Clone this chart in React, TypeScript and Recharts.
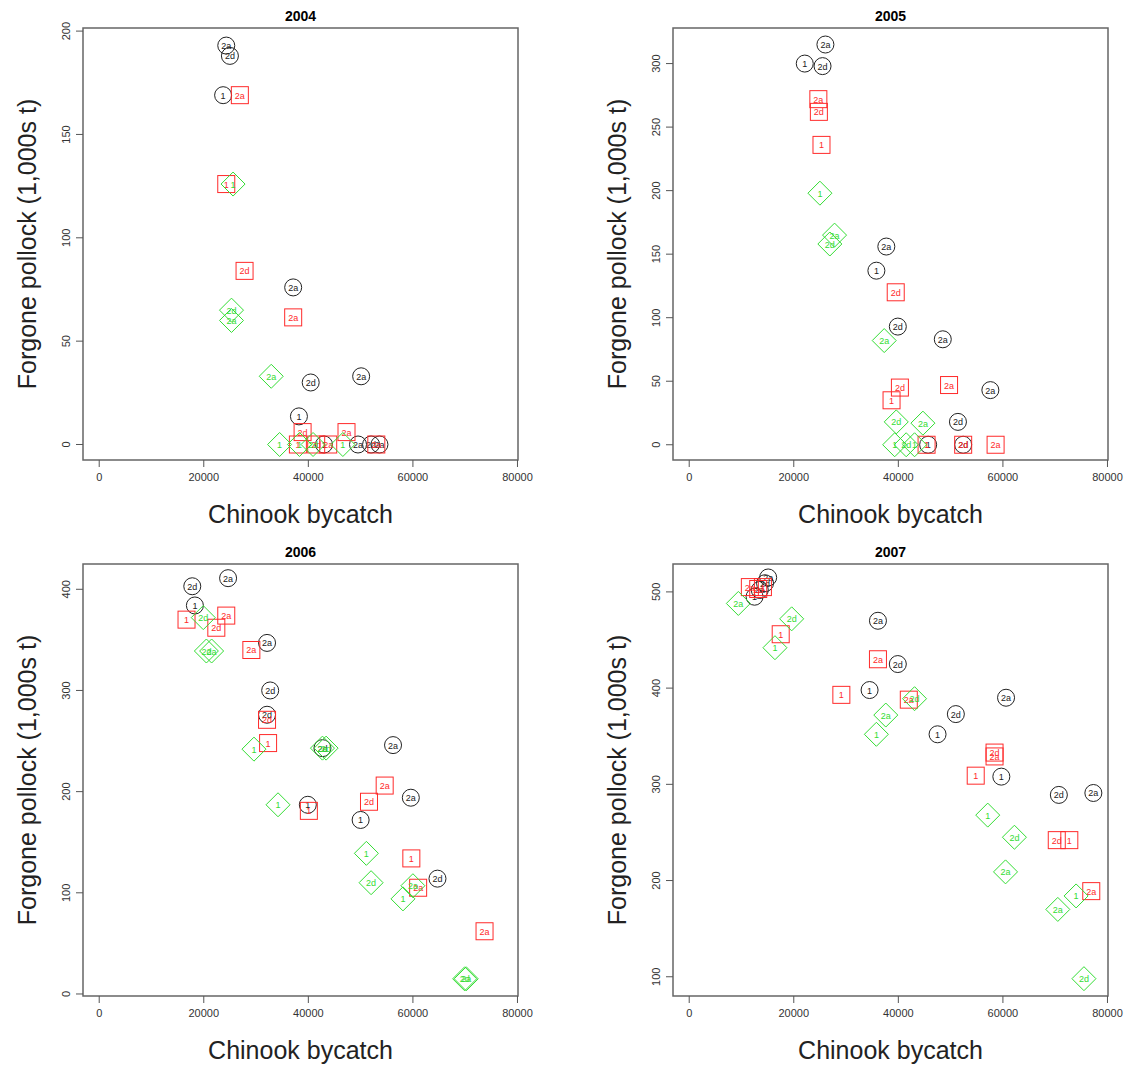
import React from "react";
import { ScatterChart, Scatter, XAxis, YAxis, ReferenceArea } from "recharts";

type P = { x: number; y: number; l: string };

const xTicks = [0, 20000, 40000, 60000, 80000];

const b2004: P[] = [
  { x: 24300, y: 193, l: "2a" }, { x: 25000, y: 188, l: "2d" }, { x: 23700, y: 169, l: "1" },
  { x: 37100, y: 76, l: "2a" }, { x: 40450, y: 30, l: "2d" }, { x: 50100, y: 33, l: "2a" },
  { x: 38200, y: 13.6, l: "1" }, { x: 43000, y: 0, l: "1" }, { x: 49500, y: 0, l: "2a" },
  { x: 52000, y: 0, l: "2d" }, { x: 53600, y: 0, l: "2a" },
];
const r2004: P[] = [
  { x: 26900, y: 169, l: "2a" }, { x: 24300, y: 126, l: "1" }, { x: 27800, y: 84, l: "2d" },
  { x: 37100, y: 61.5, l: "2a" }, { x: 38900, y: 6, l: "2d" }, { x: 47300, y: 6, l: "2a" },
  { x: 38000, y: 0, l: "1" }, { x: 41500, y: 0, l: "2d" }, { x: 43800, y: 0, l: "2a" },
  { x: 53000, y: 0, l: "2a" },
];
const g2004: P[] = [
  { x: 25600, y: 126, l: "1" }, { x: 25300, y: 65, l: "2d" }, { x: 25300, y: 60, l: "2a" },
  { x: 32900, y: 33, l: "2a" }, { x: 34500, y: 0, l: "1" }, { x: 38300, y: 0, l: "1" },
  { x: 40900, y: 0, l: "2d" }, { x: 46600, y: 0, l: "1" },
];

const b2005: P[] = [
  { x: 26050, y: 315, l: "2a" }, { x: 22100, y: 300, l: "1" }, { x: 25500, y: 298, l: "2d" },
  { x: 37700, y: 156, l: "2a" }, { x: 35800, y: 137, l: "1" }, { x: 39900, y: 93, l: "2d" },
  { x: 48500, y: 83, l: "2a" }, { x: 57600, y: 43, l: "2a" }, { x: 51400, y: 18, l: "2d" },
  { x: 45700, y: 0, l: "1" }, { x: 52400, y: 0, l: "2d" },
];
const r2005: P[] = [
  { x: 24700, y: 272, l: "2a" }, { x: 24800, y: 262, l: "2d" }, { x: 25300, y: 236, l: "1" },
  { x: 39500, y: 120, l: "2d" }, { x: 40300, y: 45, l: "2d" }, { x: 38700, y: 35, l: "1" },
  { x: 49700, y: 47, l: "2a" }, { x: 58600, y: 0, l: "2a" }, { x: 45400, y: 0, l: "1" },
  { x: 52400, y: 0, l: "2d" },
];
const g2005: P[] = [
  { x: 25000, y: 198, l: "1" }, { x: 27800, y: 165, l: "2a" }, { x: 26900, y: 158, l: "2d" },
  { x: 37300, y: 82, l: "2a" }, { x: 39600, y: 18, l: "2d" }, { x: 44700, y: 17, l: "2a" },
  { x: 39300, y: 0, l: "1" }, { x: 41500, y: 0, l: "2d" }, { x: 43100, y: 0, l: "1" },
];

const b2006: P[] = [
  { x: 24650, y: 411, l: "2a" }, { x: 17800, y: 403, l: "2d" }, { x: 18300, y: 384, l: "1" },
  { x: 32100, y: 347, l: "2a" }, { x: 32700, y: 300, l: "2d" }, { x: 32100, y: 276, l: "2d" },
  { x: 56200, y: 246, l: "2a" }, { x: 39900, y: 187, l: "1" }, { x: 59600, y: 194, l: "2a" },
  { x: 50000, y: 172, l: "1" }, { x: 64700, y: 114, l: "2d" }, { x: 42700, y: 243, l: "2d" },
];
const r2006: P[] = [
  { x: 16700, y: 370, l: "1" }, { x: 24300, y: 374, l: "2a" }, { x: 22400, y: 362, l: "2d" },
  { x: 29100, y: 340, l: "2a" }, { x: 32100, y: 271, l: "2d" }, { x: 32300, y: 248, l: "1" },
  { x: 40100, y: 181, l: "1" }, { x: 54600, y: 206, l: "2a" }, { x: 51600, y: 190, l: "2d" },
  { x: 59700, y: 134, l: "1" }, { x: 61000, y: 105, l: "2a" }, { x: 73700, y: 62, l: "2a" },
];
const g2006: P[] = [
  { x: 19900, y: 372, l: "2d" }, { x: 20500, y: 339, l: "2d" }, { x: 21500, y: 339, l: "2a" },
  { x: 29600, y: 242, l: "1" }, { x: 43400, y: 243, l: "2d" }, { x: 42700, y: 243, l: "2a" },
  { x: 34200, y: 187, l: "1" }, { x: 51100, y: 139, l: "1" }, { x: 52000, y: 110, l: "2d" },
  { x: 58100, y: 94, l: "1" }, { x: 60000, y: 107, l: "2a" }, { x: 69900, y: 15, l: "2d" },
  { x: 70200, y: 15, l: "2a" },
];

const b2007: P[] = [
  { x: 15100, y: 515, l: "2a" }, { x: 14500, y: 509, l: "2d" }, { x: 13500, y: 502, l: "2a" },
  { x: 12500, y: 495, l: "1" }, { x: 36100, y: 470, l: "2a" }, { x: 39900, y: 425, l: "2d" },
  { x: 34500, y: 398, l: "1" }, { x: 51000, y: 373, l: "2d" }, { x: 47500, y: 352, l: "1" },
  { x: 60600, y: 390, l: "2a" }, { x: 59700, y: 308, l: "1" }, { x: 70700, y: 289, l: "2d" },
  { x: 77300, y: 291, l: "2a" },
];
const r2007: P[] = [
  { x: 11600, y: 505, l: "2a" }, { x: 13200, y: 503, l: "2d" }, { x: 14100, y: 505, l: "1" },
  { x: 17500, y: 456, l: "1" }, { x: 36100, y: 430, l: "2a" }, { x: 29100, y: 393, l: "1" },
  { x: 42000, y: 388, l: "2a" }, { x: 58400, y: 329, l: "2a" }, { x: 58400, y: 333, l: "2d" },
  { x: 54800, y: 309, l: "1" }, { x: 70300, y: 242, l: "2d" }, { x: 72700, y: 242, l: "1" },
  { x: 76900, y: 189, l: "2a" },
];
const g2007: P[] = [
  { x: 9400, y: 488, l: "2a" }, { x: 19600, y: 472, l: "2d" }, { x: 16400, y: 442, l: "1" },
  { x: 37600, y: 372, l: "2a" }, { x: 35800, y: 352, l: "1" }, { x: 43100, y: 389, l: "2d" },
  { x: 57100, y: 268, l: "1" }, { x: 62200, y: 245, l: "2d" }, { x: 60500, y: 209, l: "2a" },
  { x: 74000, y: 184, l: "1" }, { x: 70500, y: 170, l: "2a" }, { x: 75500, y: 98, l: "2d" },
];

const panels = [
  { title: "2004", b: b2004, r: r2004, g: g2004, yd: [-7.5, 201.5], yt: [0, 50, 100, 150, 200], left: 0, top: 0 },
  { title: "2005", b: b2005, r: r2005, g: g2005, yd: [-12, 328], yt: [0, 50, 100, 150, 200, 250, 300], left: 590, top: 0 },
  { title: "2006", b: b2006, r: r2006, g: g2006, yd: [-2, 425], yt: [0, 100, 200, 300, 400], left: 0, top: 536 },
  { title: "2007", b: b2007, r: r2007, g: g2007, yd: [80, 529], yt: [100, 200, 300, 400, 500], left: 590, top: 536 },
];

const XD: [number, number] = [-3100, 80100];
const FONT = "Liberation Sans, Arial, sans-serif";

const mk = (kind: "c" | "s" | "d", color: string) => (props: any) => {
  const { cx, cy, payload } = props;
  if (cx == null || cy == null) return <g />;
  let sh;
  if (kind === "c") sh = <circle cx={cx} cy={cy} r={8.5} fill="none" stroke={color} strokeWidth={1} />;
  else if (kind === "s") sh = <rect x={cx - 8.5} y={cy - 8.5} width={17} height={17} fill="none" stroke={color} strokeWidth={1} />;
  else sh = <polygon points={`${cx},${cy - 12} ${cx + 12},${cy} ${cx},${cy + 12} ${cx - 12},${cy}`} fill="none" stroke={color} strokeWidth={1} />;
  return (
    <g>
      {sh}
      <text x={cx} y={cy + 3.5} textAnchor="middle" fontSize={9} fill={color} fontFamily={FONT}>{payload.l}</text>
    </g>
  );
};

const YTick = (props: any) => {
  const { x, y, payload } = props;
  return (
    <text x={x - 4} y={y} transform={`rotate(-90 ${x - 4} ${y})`} textAnchor="middle" fontSize={11} fill="#333" fontFamily={FONT}>
      {payload.value}
    </text>
  );
};
const XTick = (props: any) => {
  const { x, y, payload } = props;
  return (
    <text x={x} y={y + 12} textAnchor="middle" fontSize={11} fill="#333" fontFamily={FONT}>{payload.value}</text>
  );
};

const Panel = ({ p }: { p: any }) => (
  <div style={{ position: "absolute", left: p.left, top: p.top, width: 568, height: 534 }}>
    <ScatterChart width={568} height={534} margin={{ left: 43, top: 28, right: 50, bottom: 44 }}>
      <XAxis type="number" dataKey="x" domain={XD} ticks={xTicks} allowDataOverflow axisLine={false}
        tickLine={{ stroke: "#555" }} tickSize={7} tick={<XTick />} height={30} />
      <YAxis type="number" dataKey="y" domain={p.yd} ticks={p.yt} allowDataOverflow axisLine={false}
        tickLine={{ stroke: "#555" }} tickSize={7} tick={<YTick />} width={40} />
      <ReferenceArea x1={XD[0]} x2={XD[1]} y1={p.yd[0]} y2={p.yd[1]} fill="none" stroke="#666" strokeWidth={1.5} />
      <Scatter data={p.b} shape={mk("c", "#222")} isAnimationActive={false} />
      <Scatter data={p.r} shape={mk("s", "#ff2a2a")} isAnimationActive={false} />
      <Scatter data={p.g} shape={mk("d", "#33dd33")} isAnimationActive={false} />
    </ScatterChart>
    <div style={{ position: "absolute", left: 83, width: 435, top: 8, textAlign: "center", fontFamily: FONT, fontWeight: "bold", fontSize: 14 }}>{p.title}</div>
    <div style={{ position: "absolute", left: 83, width: 435, top: 500, textAlign: "center", fontFamily: FONT, fontSize: 25, color: "#222" }}>Chinook bycatch</div>
    <div style={{ position: "absolute", left: 27, top: 244, width: 0, height: 0 }}>
      <div style={{ position: "absolute", transform: "translate(-50%,-50%) rotate(-90deg)", whiteSpace: "nowrap", fontFamily: FONT, fontSize: 25, color: "#222" }}>
        Forgone pollock (1,000s t)
      </div>
    </div>
  </div>
);

export default function App() {
  return (
    <div style={{ position: "absolute", left: 0, top: 0, width: 1137, height: 1068, background: "#fff" }}>
      {panels.map((p) => <Panel key={p.title} p={p} />)}
    </div>
  );
}
